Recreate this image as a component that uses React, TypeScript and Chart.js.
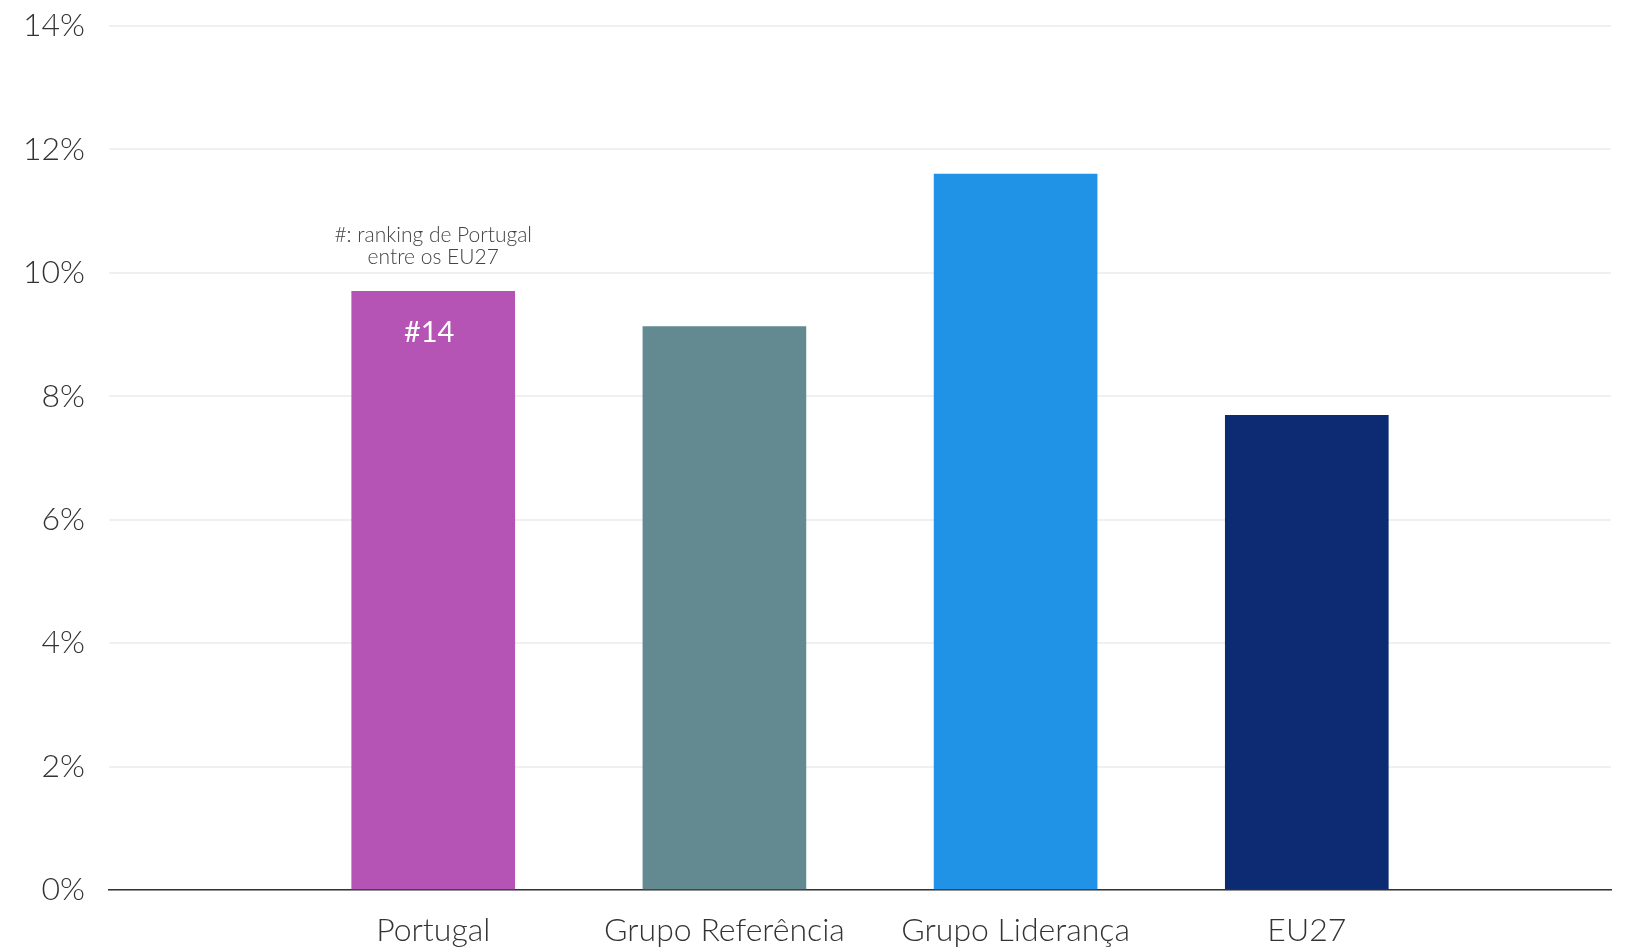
import React, { useEffect, useRef } from "react";
import { Chart, registerables } from "chart.js";

Chart.register(...registerables);

const FONT = "Lato, 'Open Sans', sans-serif";

const categories = ["Portugal", "Grupo Referência", "Grupo Liderança", "EU27"];
const positions = [1, 2, 3, 4];
const values = [9.7, 9.13, 11.6, 7.69];
const barColors = ["#b554b5", "#638991", "#2193e6", "#0d2b72"];
const yTickValues = [0, 2, 4, 6, 8, 10, 12, 14];
const noteLines = ["#: ranking de Portugal", "entre os EU27"];
const rankLabel = "#14";
const rankIndex = 0;

const notesPlugin = {
  id: "notes",
  afterDatasetsDraw(chart: any) {
    const { ctx, scales } = chart;
    const x = scales.x;
    const y = scales.y;
    const cx = x.getPixelForValue(positions[rankIndex]);
    const top = y.getPixelForValue(values[rankIndex]);
    ctx.save();
    ctx.textAlign = "center";
    ctx.textBaseline = "alphabetic";
    ctx.fillStyle = "#ffffff";
    ctx.font = `400 29px ${FONT}`;
    ctx.fillText(rankLabel, cx - 4, top + 51);
    ctx.fillStyle = "#444444";
    ctx.font = `300 21px ${FONT}`;
    noteLines.forEach((line, i) => {
      ctx.fillText(line, cx, top - 49 + i * 21.6);
    });
    ctx.restore();
  },
};

export default function App() {
  const canvasRef = useRef<HTMLCanvasElement | null>(null);

  useEffect(() => {
    document.body.style.margin = "0";
    const canvas = canvasRef.current;
    if (!canvas) return;
    const chart = new Chart(canvas, {
      type: "bar",
      data: {
        datasets: [
          {
            data: positions.map((p, i) => ({ x: p, y: values[i] })),
            backgroundColor: barColors,
            borderWidth: 0,
            barThickness: 163,
          },
        ],
      },
      options: {
        animation: false,
        responsive: false,
        devicePixelRatio: 1,
        layout: { padding: { left: 0, top: 26, right: 25, bottom: 0 } },
        plugins: {
          legend: { display: false },
          tooltip: { enabled: false },
          title: { display: false },
        },
        scales: {
          x: {
            type: "linear",
            offset: false,
            min: -0.1134,
            max: 5.0447,
            afterBuildTicks: (scale: any) => {
              scale.ticks = positions.map((v) => ({ value: v }));
            },
            afterFit: (scale: any) => {
              scale.height = 60;
              scale.paddingLeft = 0;
              scale.paddingRight = 0;
            },
            grid: { display: false, drawTicks: false, offset: false },
            border: { display: true, color: "#333333", width: 1.5 },
            ticks: {
              autoSkip: false,
              maxRotation: 0,
              padding: 21,
              color: "#333333",
              font: { family: FONT, size: 32, weight: 300 as any },
              callback: (v: any) => {
                const idx = positions.indexOf(Number(v));
                return idx >= 0 ? categories[idx] : "";
              },
            },
          },
          y: {
            type: "linear",
            min: yTickValues[0],
            max: yTickValues[yTickValues.length - 1],
            afterBuildTicks: (scale: any) => {
              scale.ticks = yTickValues.map((v) => ({ value: v }));
            },
            afterFit: (scale: any) => {
              scale.width = 109;
              scale.paddingTop = 0;
              scale.paddingBottom = 0;
            },
            grid: { color: "#f0f0f0", lineWidth: 2, drawTicks: false },
            border: { display: false },
            ticks: {
              padding: 24,
              color: "#333333",
              font: { family: FONT, size: 32, weight: 300 as any },
              callback: (v: any) => `${v}%`,
            },
          },
        },
      },
      plugins: [notesPlugin],
    });
    return () => chart.destroy();
  }, []);

  return (
    <canvas
      ref={canvasRef}
      width={1636}
      height={950}
      style={{ display: "block", width: "1636px", height: "950px" }}
    />
  );
}
